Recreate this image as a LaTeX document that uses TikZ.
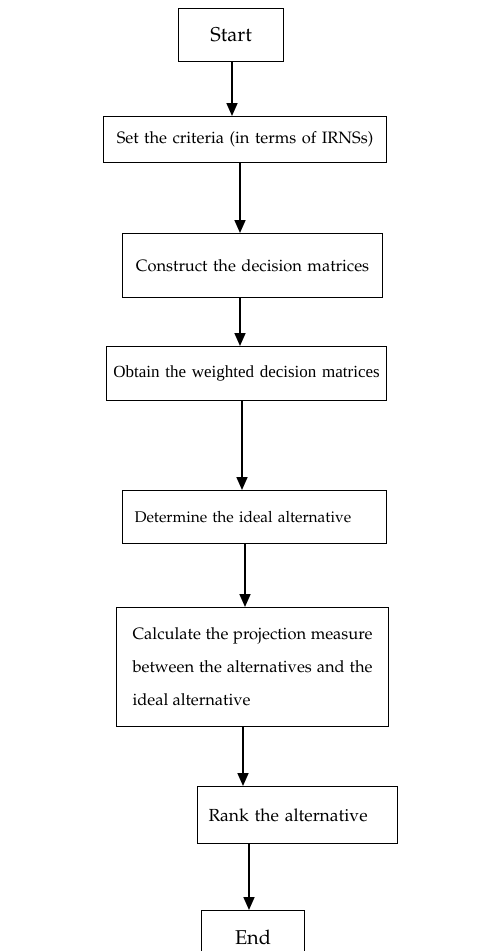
\documentclass[tikz,border=0pt]{standalone}
\usepackage[T1]{fontenc}
\usepackage{fontspec}
\usetikzlibrary{arrows.meta}
\newfontfamily\timesfont{Liberation Serif}
\newcommand\palfont[1]{\fontencoding{T1}\fontfamily{ppl}\fontsize{#1}{33}\selectfont}
\newcommand\tmsfont{\timesfont\fontsize{17}{33}\selectfont}
\hyphenpenalty=10000
\exhyphenpenalty=10000
\tikzset{
  stepbox/.style={draw, line width=1.1pt, anchor=north west, inner xsep=8pt,
    inner ysep=0pt, font=\palfont{16.5}},
  flowarrow/.style={line width=1.6pt, -{Triangle[length=13pt,width=11pt]}}
}
\begin{document}
\begin{tikzpicture}[x=1pt,y=1pt]
            \useasboundingbox (0,0) rectangle (489,-951);

            \node[stepbox, minimum width=105, minimum height=53, text width=89, align=center, font=\palfont{20}] (start) at (178,-8) {Start};
            \node[stepbox, minimum width=283, minimum height=46, text width=267, align=center] (crit) at (103,-116) {Set the criteria (in terms of IRNSs)};
            \node[stepbox, minimum width=260, minimum height=64, text width=244, align=center] (cons) at (122,-233) {Construct the decision matrices};
            \node[stepbox, minimum width=280, minimum height=54, inner xsep=4pt, text width=272, align=center, font=\tmsfont] (wdm) at (106,-346) {Obtain the weighted decision matrices};
            \node[stepbox, minimum width=264, minimum height=53, inner xsep=12pt, text width=240, align=left, font=\palfont{15.5}] (ideal) at (122,-490) {Determine the ideal alternative};
            \node[stepbox, minimum width=272, minimum height=119, inner xsep=16pt, text width=240, align=justify] (proj) at (116,-607) {Calculate the projection measure between the alternatives and the ideal alternative\par\vspace*{26pt}};
            \node[stepbox, minimum width=200, minimum height=57, inner xsep=11pt, text width=178, align=left, font=\palfont{17.5}] (rank) at (197,-786) {Rank the alternative};
            \node[stepbox, minimum width=103, minimum height=53, text width=87, align=center, font=\palfont{20}] (end) at (201,-910) {End};

            \draw[flowarrow] (start.south -| 232,0) -- (crit.north -| 232,0);
            \draw[flowarrow] (crit.south -| 240,0) -- (cons.north -| 240,0);
            \draw[flowarrow] (cons.south -| 240,0) -- (wdm.north -| 240,0);
            \draw[flowarrow] (wdm.south -| 242,0) -- (ideal.north -| 242,0);
            \draw[flowarrow] (ideal.south -| 245,0) -- (proj.north -| 245,0);
            \draw[flowarrow] (proj.south -| 243,0) -- (rank.north -| 243,0);
            \draw[flowarrow] (rank.south -| 249,0) -- (end.north -| 249,0);
        \end{tikzpicture}
\end{document}
